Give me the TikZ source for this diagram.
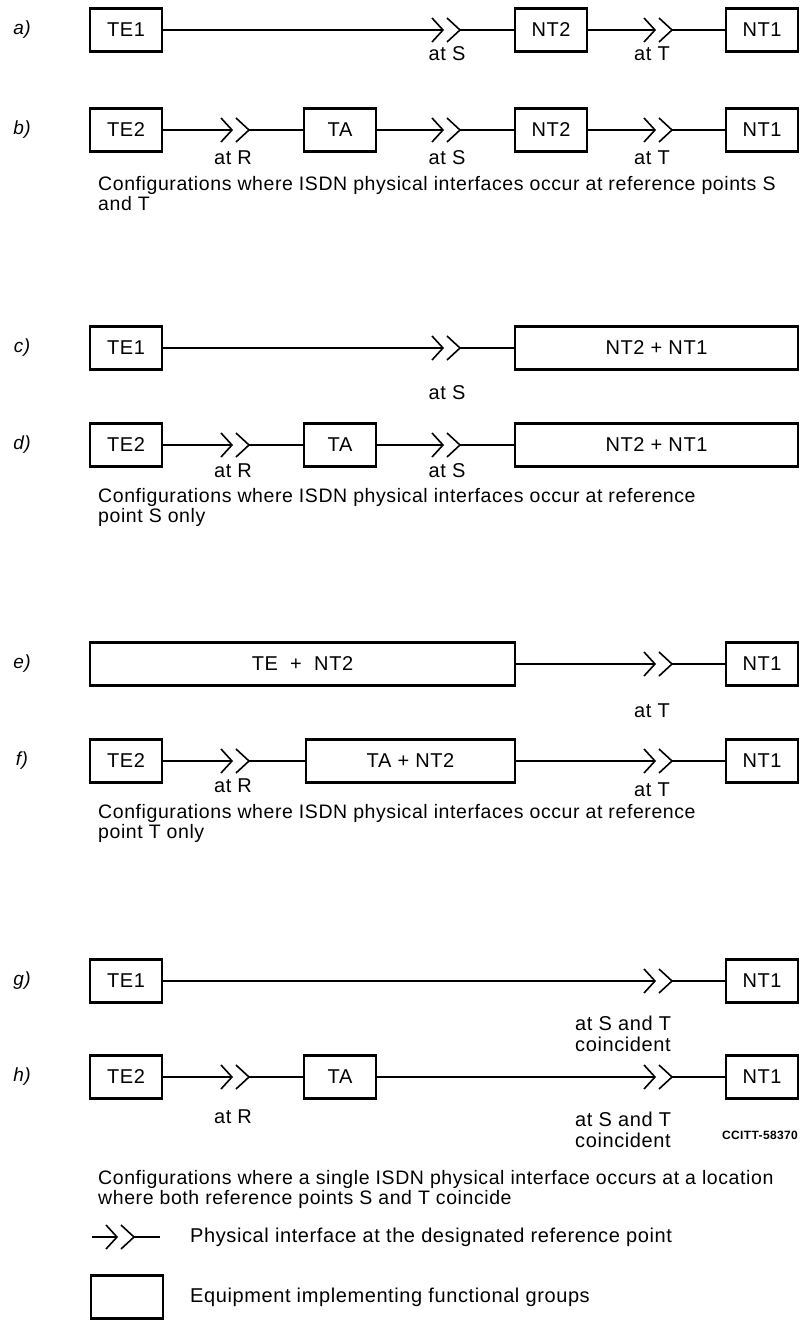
\documentclass[tikz,border=0pt]{standalone}
\usepackage{fontspec}
\setmainfont{Liberation Sans}[LetterSpace=3]
\usetikzlibrary{positioning}

\tikzset{
    iface/.pic={
        \draw[chev] (-11,-12) -- (0,0) -- (-11,12);
        \draw[chev] (4,-12) -- (17,0) -- (4,12);
        \coordinate (-in) at (0,0);
        \coordinate (-out) at (17,0);
    }
}

\begin{document}
\begin{tikzpicture}[
    x=1pt, y=-1pt,
    font=\fontsize{20}{21}\selectfont,
    unit/.style={draw, line width=2.2pt, minimum width=72pt, minimum height=43pt, inner sep=0pt},
    wire/.style={line width=1.1pt},
    chev/.style={line width=1.6pt, line join=miter},
    tag/.style={inner sep=0pt, align=left},
    row/.style={inner sep=0pt, font=\fontsize{19}{20}\selectfont\itshape},
    note/.style={anchor=north west, inner sep=0pt, align=left, font=\fontsize{19.5}{20}\selectfont}
]
\fill[white] (0,0) rectangle (803,1344);
\useasboundingbox (0,0) rectangle (803,1344);

% a)
\node[row] (la) at (22,30) {a)};
\node[unit] (te1a) at (126,30) {TE1};
\pic (sa) at (443,30) {iface};
\node[unit] (nt2a) at (551,30) {NT2};
\pic (ta) at (655,30) {iface};
\node[unit] (nt1a) at (762,30) {NT1};
\draw[wire] (te1a) -- (sa-in);
\draw[wire] (sa-out) -- (nt2a);
\draw[wire] (nt2a) -- (ta-in);
\draw[wire] (ta-out) -- (nt1a);
\node[tag] (lsa) at (447,54) {at S};
\node[tag] (lta) at (652,54) {at T};

% b)
\node[row] (lb) at (22,130) {b)};
\node[unit] (te2b) at (126,130) {TE2};
\pic (rb) at (232,130) {iface};
\node[unit] (tab) at (340,130) {TA};
\pic (sb) at (443,130) {iface};
\node[unit] (nt2b) at (551,130) {NT2};
\pic (tb) at (655,130) {iface};
\node[unit] (nt1b) at (762,130) {NT1};
\draw[wire] (te2b) -- (rb-in);
\draw[wire] (rb-out) -- (tab);
\draw[wire] (tab) -- (sb-in);
\draw[wire] (sb-out) -- (nt2b);
\draw[wire] (nt2b) -- (tb-in);
\draw[wire] (tb-out) -- (nt1b);
\node[tag] (lrb) at (233,158) {at R};
\node[tag] (lsb) at (447,158) {at S};
\node[tag] (ltb) at (652,158) {at T};

\node[note] (cap1) at (98,176) {Configurations where ISDN physical interfaces occur at reference points S\\and T};

% c)
\node[row] (lc) at (22,348) {c)};
\node[unit] (te1c) at (126,348) {TE1};
\pic (sc) at (443,348) {iface};
\node[unit, minimum width=283pt] (ntc) at (656.5,348) {NT2 + NT1};
\draw[wire] (te1c) -- (sc-in);
\draw[wire] (sc-out) -- (ntc);
\node[tag] (lsc) at (447,393) {at S};

% d)
\node[row] (ld) at (22,445) {d)};
\node[unit] (te2d) at (126,445) {TE2};
\pic (rd) at (232,445) {iface};
\node[unit] (tad) at (340,445) {TA};
\pic (sd) at (443,445) {iface};
\node[unit, minimum width=283pt] (ntd) at (656.5,445) {NT2 + NT1};
\draw[wire] (te2d) -- (rd-in);
\draw[wire] (rd-out) -- (tad);
\draw[wire] (tad) -- (sd-in);
\draw[wire] (sd-out) -- (ntd);
\node[tag] (lrd) at (233,471) {at R};
\node[tag] (lsd) at (447,471) {at S};

\node[note] (cap2) at (98,488) {Configurations where ISDN physical interfaces occur at reference\\point S only};

% e)
\node[row] (le) at (22,664) {e)};
\node[unit, minimum width=425pt] (tene) at (302.5,664) {TE \ + \ NT2};
\pic (te) at (655,664) {iface};
\node[unit] (nt1e) at (762,664) {NT1};
\draw[wire] (tene) -- (te-in);
\draw[wire] (te-out) -- (nt1e);
\node[tag] (lte) at (652,711) {at T};

% f)
\node[row] (lf) at (22,761) {f)};
\node[unit] (te2f) at (126,761) {TE2};
\pic (rf) at (232,761) {iface};
\node[unit, minimum width=209pt] (tanf) at (410.5,761) {TA + NT2};
\pic (tf) at (655,761) {iface};
\node[unit] (nt1f) at (762,761) {NT1};
\draw[wire] (te2f) -- (rf-in);
\draw[wire] (rf-out) -- (tanf);
\draw[wire] (tanf) -- (tf-in);
\draw[wire] (tf-out) -- (nt1f);
\node[tag] (lrf) at (233,786) {at R};
\node[tag] (ltf) at (652,790) {at T};

\node[note] (cap3) at (98,804) {Configurations where ISDN physical interfaces occur at reference\\point T only};

% g)
\node[row] (lg) at (22,981) {g)};
\node[unit] (te1g) at (126,981) {TE1};
\pic (stg) at (655,981) {iface};
\node[unit] (nt1g) at (762,981) {NT1};
\draw[wire] (te1g) -- (stg-in);
\draw[wire] (stg-out) -- (nt1g);
\node[tag, anchor=north west] (lstg) at (575,1016) {at S and T\\coincident};

% h)
\node[row] (lh) at (22,1077) {h)};
\node[unit] (te2h) at (126,1077) {TE2};
\pic (rh) at (232,1077) {iface};
\node[unit] (tah) at (340,1077) {TA};
\pic (sth) at (655,1077) {iface};
\node[unit] (nt1h) at (762,1077) {NT1};
\draw[wire] (te2h) -- (rh-in);
\draw[wire] (rh-out) -- (tah);
\draw[wire] (tah) -- (sth-in);
\draw[wire] (sth-out) -- (nt1h);
\node[tag] (lrh) at (233,1117) {at R};
\node[tag, anchor=north west] (lsth) at (575,1112) {at S and T\\coincident};
\node[tag, font=\fontsize{12}{12}\selectfont\bfseries] (ref) at (760,1135) {CCITT-58370};

\node[note] (cap4) at (98,1170) {Configurations where a single ISDN physical interface occurs at a location\\where both reference points S and T coincide};

% legend
\coordinate (keyl) at (92,1237);
\pic (key) at (117,1237) {iface};
\coordinate (keyr) at (160,1237);
\draw[wire] (keyl) -- (key-in);
\draw[wire] (key-out) -- (keyr);
\node[tag, anchor=west] (keyt) at (190,1237) {Physical interface at the designated reference point};
\node[unit] (box) at (127,1297) {};
\node[tag, anchor=west] (boxt) at (190,1297) {Equipment implementing functional groups};
\end{tikzpicture}
\end{document}
